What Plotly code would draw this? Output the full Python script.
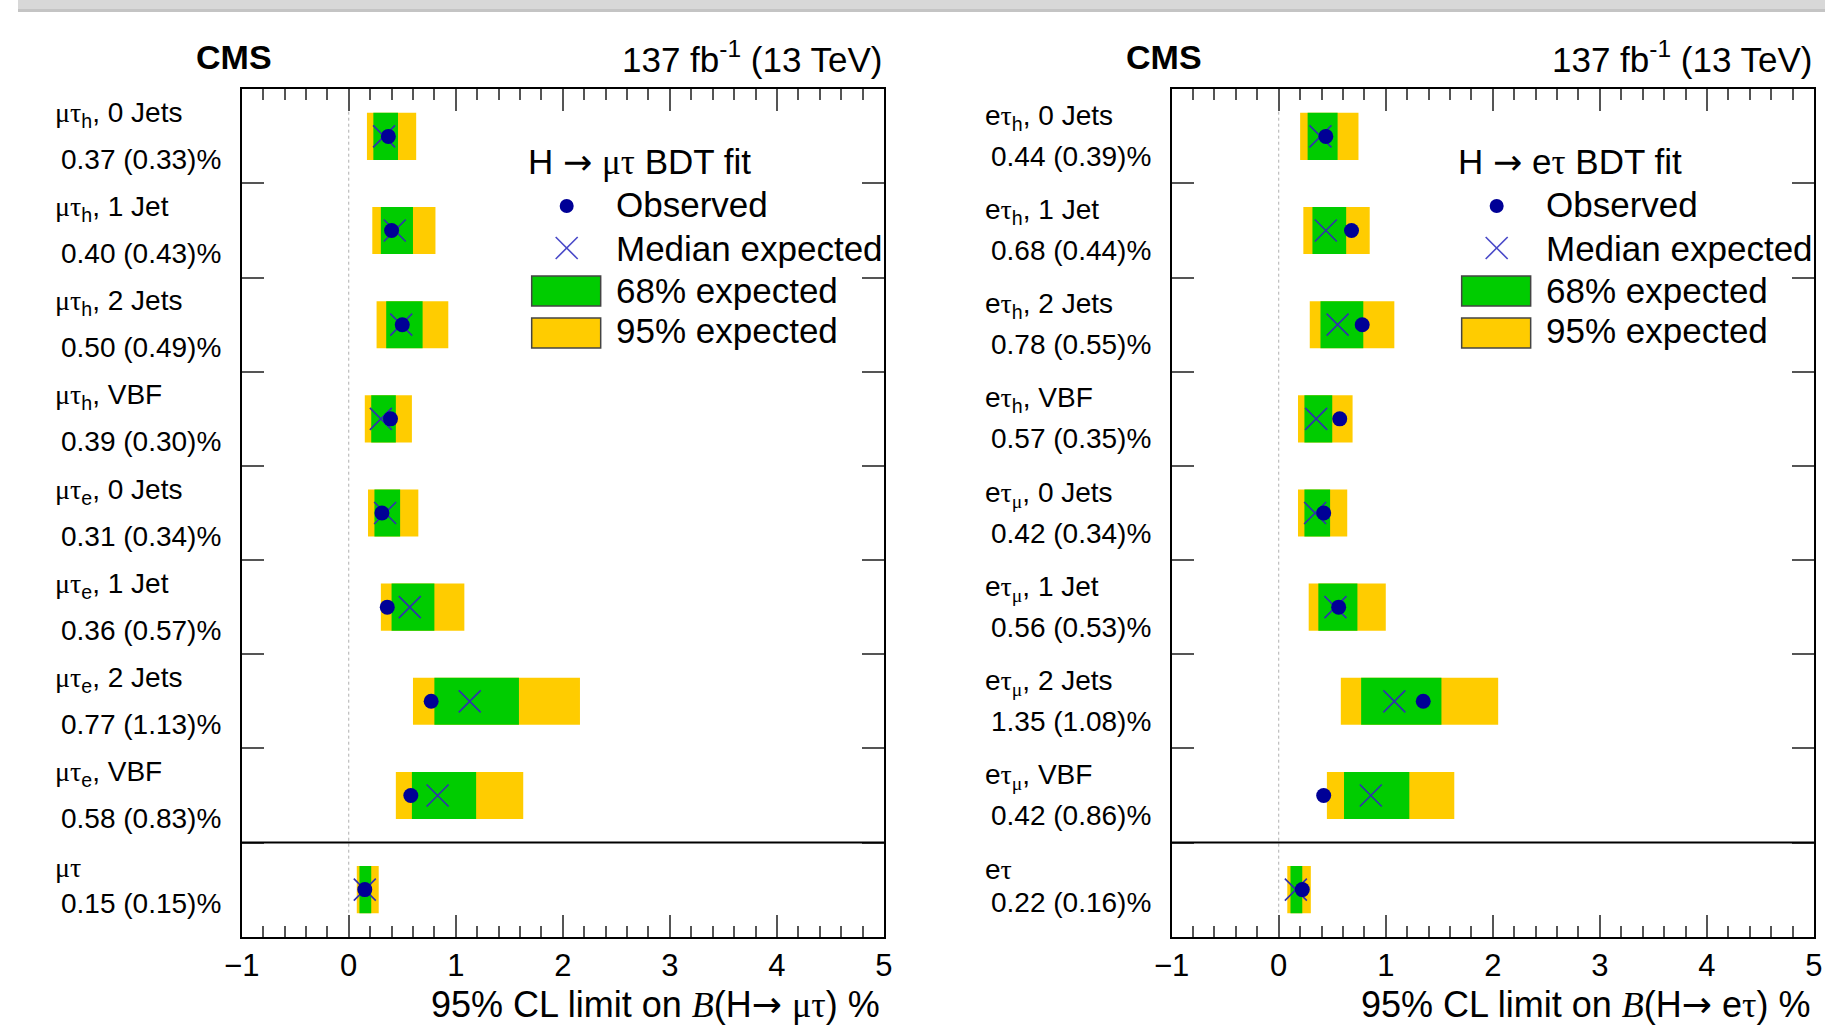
import plotly.graph_objects as go

W, H = 1834, 1035

# ---------------- data ----------------
mt_channel = ["μτ<sub>h</sub>, 0 Jets", "μτ<sub>h</sub>, 1 Jet", "μτ<sub>h</sub>, 2 Jets", "μτ<sub>h</sub>, VBF",
              "μτ<sub>e</sub>, 0 Jets", "μτ<sub>e</sub>, 1 Jet", "μτ<sub>e</sub>, 2 Jets", "μτ<sub>e</sub>, VBF", "μτ"]
mt_observed = [0.37, 0.40, 0.50, 0.39, 0.31, 0.36, 0.77, 0.58, 0.15]
mt_expected = [0.33, 0.43, 0.49, 0.30, 0.34, 0.57, 1.13, 0.83, 0.15]
mt_lo95 = [0.17, 0.22, 0.26, 0.15, 0.18, 0.30, 0.60, 0.44, 0.075]
mt_lo68 = [0.23, 0.30, 0.35, 0.21, 0.24, 0.40, 0.80, 0.59, 0.10]
mt_hi68 = [0.46, 0.60, 0.69, 0.44, 0.48, 0.80, 1.59, 1.19, 0.21]
mt_hi95 = [0.63, 0.81, 0.93, 0.59, 0.65, 1.08, 2.16, 1.63, 0.28]

et_channel = ["eτ<sub>h</sub>, 0 Jets", "eτ<sub>h</sub>, 1 Jet", "eτ<sub>h</sub>, 2 Jets", "eτ<sub>h</sub>, VBF",
              "eτ<sub>μ</sub>, 0 Jets", "eτ<sub>μ</sub>, 1 Jet", "eτ<sub>μ</sub>, 2 Jets", "eτ<sub>μ</sub>, VBF", "eτ"]
et_observed = [0.44, 0.68, 0.78, 0.57, 0.42, 0.56, 1.35, 0.42, 0.22]
et_expected = [0.39, 0.44, 0.55, 0.35, 0.34, 0.53, 1.08, 0.86, 0.16]
et_lo95 = [0.20, 0.23, 0.29, 0.18, 0.18, 0.28, 0.58, 0.45, 0.08]
et_lo68 = [0.27, 0.315, 0.39, 0.24, 0.24, 0.37, 0.77, 0.61, 0.11]
et_hi68 = [0.55, 0.63, 0.79, 0.50, 0.48, 0.735, 1.52, 1.22, 0.22]
et_hi95 = [0.745, 0.85, 1.08, 0.69, 0.64, 1.00, 2.05, 1.64, 0.30]

x_ticks = [-1, 0, 1, 2, 3, 4, 5]
legend_title = ["H <A> μτ BDT fit", "H <A> eτ BDT fit"]
legend_items = ["Observed", "Median expected", "68% expected", "95% expected"]
axis_titles = ["95% CL limit on <B>(H<A> μτ) %", "95% CL limit on <B>(H<A> eτ) %"]

GREEN = "#00CC00"
YELLOW = "#FFCC00"
DOT = "#000096"
XCOL = "#3030b0"
FONT = "Liberation Sans"
SERIF = "Liberation Serif"
ARROW = "<span style='font-family:DejaVu Sans'>→</span>"
BSYM = f"<span style='font-family:{SERIF}'><i>B</i></span>"

# horizontal calibration of the capture (screen_x = SX_SCALE * x + SX_OFF)
SX_SCALE, SX_OFF = 0.9853, 17.0


def greek(s):
    out = ""
    for ch in s:
        if ch in "μτ":
            out += f"<span style='font-family:{SERIF}'>{ch}</span>"
        else:
            out += ch
    return out.replace("<A>", ARROW).replace("<B>", BSYM)


def px(x):
    """target screen pixel -> paper x"""
    return min(max(((x - SX_OFF) / SX_SCALE) / W, 0.0), 1.0)


def py(y):
    return 1 - y / H


fig = go.Figure()

FRAMES = [(240.7, 883.0), (1170.7, 1813.0)]
FT, FB = 89.3, 936.7

nrow = len(mt_channel)
ypos = [nrow - i - 0.5 for i in range(nrow)]

panels = [
    dict(ch=mt_channel, obs=mt_observed, exp=mt_expected, lo95=mt_lo95, lo68=mt_lo68, hi68=mt_hi68, hi95=mt_hi95,
         xa="x", ya="y", off=(22, 23), off9=(22, 14)),
    dict(ch=et_channel, obs=et_observed, exp=et_expected, lo95=et_lo95, lo68=et_lo68, hi68=et_hi68, hi95=et_hi95,
         xa="x2", ya="y2", off=(19, 20), off9=(20, 13)),
]

annotations = []
shapes = []

for k, p in enumerate(panels):
    FL, FR = FRAMES[k]
    fig.add_trace(go.Bar(y=ypos, x=[h - l for h, l in zip(p["hi95"], p["lo95"])], base=p["lo95"],
                         orientation="h", width=0.5, marker=dict(color=YELLOW, line=dict(width=0)),
                         xaxis=p["xa"], yaxis=p["ya"], showlegend=False, hoverinfo="skip"))
    fig.add_trace(go.Bar(y=ypos, x=[h - l for h, l in zip(p["hi68"], p["lo68"])], base=p["lo68"],
                         orientation="h", width=0.5, marker=dict(color=GREEN, line=dict(width=0)),
                         xaxis=p["xa"], yaxis=p["ya"], showlegend=False, hoverinfo="skip"))
    fig.add_trace(go.Scatter(y=ypos, x=p["exp"], mode="markers",
                             marker=dict(symbol="x-thin", size=22, line=dict(width=1.6, color=XCOL)),
                             xaxis=p["xa"], yaxis=p["ya"], showlegend=False, hoverinfo="skip"))
    fig.add_trace(go.Scatter(y=ypos, x=p["obs"], mode="markers",
                             marker=dict(symbol="circle", size=15, color=DOT, line=dict(width=0)),
                             xaxis=p["xa"], yaxis=p["ya"], showlegend=False, hoverinfo="skip"))

    xref = p["xa"]
    yref = p["ya"]
    shapes.append(dict(type="line", xref=xref, yref=f"{yref} domain", x0=0, x1=0, y0=0, y1=1,
                       line=dict(color="#b0b0b0", width=1, dash="dot"), layer="below"))
    shapes.append(dict(type="line", xref=f"{xref} domain", yref=yref, x0=0, x1=1, y0=1, y1=1,
                       line=dict(color="black", width=2)))

    rowpx = (FB - FT) / nrow
    for i, lab in enumerate(p["ch"]):
        yc = FT + (i + 0.5) * rowpx
        o1, o2 = p["off9"] if i == nrow - 1 else p["off"]
        annotations.append(dict(text=greek(lab), x=px(FL - 189), y=py(yc - o1), xref="paper", yref="paper",
                                xanchor="left", yanchor="middle", showarrow=False,
                                font=dict(family=FONT, size=28, color="black")))
        annotations.append(dict(text=f"{p['obs'][i]:.2f} ({p['exp'][i]:.2f})%", x=px(FL - 183), y=py(yc + o2),
                                xref="paper", yref="paper", xanchor="left", yanchor="middle", showarrow=False,
                                font=dict(family=FONT, size=28, color="black")))

    annotations.append(dict(text="<b>CMS</b>", x=px(FL - 8), y=py(57), xref="paper", yref="paper",
                            xanchor="center", yanchor="middle", showarrow=False,
                            font=dict(family=FONT, size=34, color="black")))
    annotations.append(dict(text="137 fb<sup>-1</sup> (13 TeV)", x=px(FR), y=py(57), xref="paper", yref="paper",
                            xanchor="right", yanchor="middle", showarrow=False,
                            font=dict(family=FONT, size=35, color="black")))
    annotations.append(dict(text=greek(axis_titles[k]), x=px(FR - 2), y=py(1004), xref="paper", yref="paper",
                            xanchor="right", yanchor="middle", showarrow=False,
                            font=dict(family=FONT, size=36, color="black")))

    annotations.append(dict(text=greek(legend_title[k]), x=px(FL + 284), y=py(162), xref="paper", yref="paper",
                            xanchor="left", yanchor="middle", showarrow=False,
                            font=dict(family=FONT, size=35, color="black")))
    for j, (item, yc) in enumerate(zip(legend_items, [204, 248, 290, 331])):
        annotations.append(dict(text=item, x=px(FL + 372), y=py(yc), xref="paper", yref="paper",
                                xanchor="left", yanchor="middle", showarrow=False,
                                font=dict(family=FONT, size=35, color="black")))
    cx = FL + 325
    shapes.append(dict(type="circle", xref="paper", yref="paper", x0=px(cx - 7), x1=px(cx + 7),
                       y0=py(206 + 7), y1=py(206 - 7), fillcolor=DOT, line=dict(width=0)))
    for sgn in (1, -1):
        shapes.append(dict(type="line", xref="paper", yref="paper", x0=px(cx - 11), x1=px(cx + 11),
                           y0=py(248 - 11 * sgn), y1=py(248 + 11 * sgn), line=dict(color="#4848c8", width=1.6)))
    shapes.append(dict(type="rect", xref="paper", yref="paper", x0=px(FL + 290), x1=px(FL + 359),
                       y0=py(306), y1=py(276), fillcolor=GREEN, line=dict(color="#444444", width=1.5)))
    shapes.append(dict(type="rect", xref="paper", yref="paper", x0=px(FL + 290), x1=px(FL + 359),
                       y0=py(348), y1=py(318), fillcolor=YELLOW, line=dict(color="#444444", width=1.5)))

# page shadow (top band)
shapes.append(dict(type="rect", xref="paper", yref="paper", x0=0, x1=1, y0=py(12), y1=1,
                   fillcolor="#d8d8d8", line=dict(width=0), layer="below"))
shapes.append(dict(type="rect", xref="paper", yref="paper", x0=0, x1=1, y0=py(12), y1=py(9),
                   fillcolor="#c4c4c4", line=dict(width=0), layer="below"))


def xaxis(dom, anchor):
    return dict(domain=dom, anchor=anchor, range=[-1, 5], tickmode="array", tickvals=x_ticks,
                ticks="inside", ticklen=22, tickwidth=1.5, tickcolor="#555555",
                minor=dict(dtick=0.2, tick0=0, ticks="inside", ticklen=11, tickwidth=1.5, tickcolor="#555555"),
                showline=True, linecolor="black", linewidth=2, mirror="ticks",
                showgrid=False, zeroline=False, fixedrange=True,
                tickfont=dict(family=FONT, size=31, color="black"))


def yaxis(anchor):
    return dict(domain=[py(FB), py(FT)], anchor=anchor, range=[0, nrow], tickmode="array",
                tickvals=list(range(1, nrow)), ticks="inside", ticklen=22, tickwidth=2, tickcolor="#555555",
                showticklabels=False, showline=True, linecolor="black", linewidth=2, mirror="ticks",
                showgrid=False, zeroline=False, fixedrange=True)


fig.update_layout(
    width=W, height=H, margin=dict(l=0, r=0, t=0, b=0),
    paper_bgcolor="white", plot_bgcolor="white", barmode="overlay",
    xaxis=xaxis([px(FRAMES[0][0]), px(FRAMES[0][1])], "y"),
    yaxis=yaxis("x"),
    xaxis2=xaxis([px(FRAMES[1][0]), px(FRAMES[1][1])], "y2"),
    yaxis2=yaxis("x2"),
    annotations=annotations, shapes=shapes, showlegend=False,
)

fix_page = (
    "document.body.style.margin='0';document.body.style.padding='0';document.body.style.overflow='hidden';"
    "var bg='linear-gradient(to right, #d4d4d4 0px, #b4b4b4 11px, #a8a8a8 12px, rgba(255,255,255,0) 12px),"
    " linear-gradient(to bottom, #d8d8d8 0px, #d8d8d8 9px, #c4c4c4 9px, #c4c4c4 12px, #ffffff 12px)';"
    "document.body.style.background=bg;document.documentElement.style.background=bg;"
)
fig.write_html("out.html", post_script=fix_page)
